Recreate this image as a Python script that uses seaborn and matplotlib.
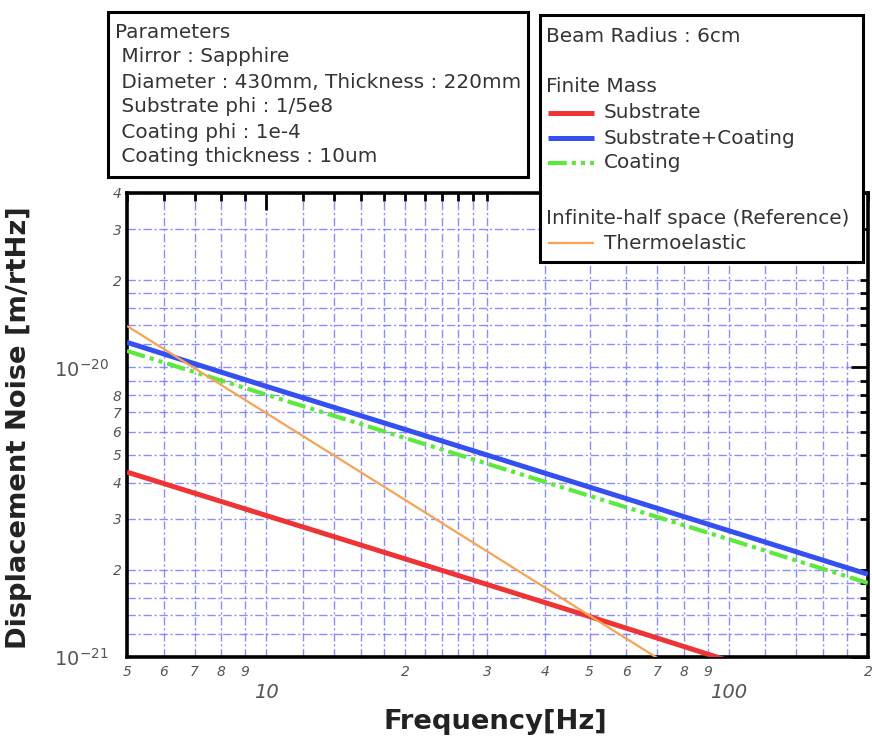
import numpy as np
import pandas as pd
import matplotlib
matplotlib.use("Agg")
import matplotlib.pyplot as plt
from matplotlib.patches import Rectangle
from matplotlib.lines import Line2D
from matplotlib.ticker import FixedLocator, FuncFormatter
import seaborn as sns

# ---- data: displacement noise spectra [m/rtHz] vs frequency [Hz] ----
freq = [5, 10, 20, 50, 100, 200]
substrate = [4.35e-21, 3.08e-21, 2.18e-21, 1.38e-21, 9.7e-22, 6.9e-22]
coating = [1.14e-20, 8.05e-21, 5.70e-21, 3.60e-21, 2.55e-21, 1.80e-21]
sub_coat = [1.22e-20, 8.60e-21, 6.10e-21, 3.86e-21, 2.73e-21, 1.93e-21]
thermoelastic = [1.39e-20, 6.95e-21, 3.48e-21, 1.39e-21, 6.95e-22, 3.5e-22]

series_names = ["Substrate", "Substrate+Coating", "Coating", "Thermoelastic"]

# tick positions and labels
x_major = [10, 100]
x_major_labels = ["10", "100"]
x_minor = [5, 6, 7, 8, 9, 12, 14, 16, 18, 20, 22, 24, 26, 28, 30, 40, 50, 60,
           70, 80, 90, 120, 140, 160, 180, 200]
x_minor_labels = {5: "5", 6: "6", 7: "7", 8: "8", 9: "9", 20: "2", 30: "3",
                  40: "4", 50: "5", 60: "6", 70: "7", 80: "8", 90: "9", 200: "2"}
y_major = [1e-21, 1e-20]
y_major_labels = [r"$\mathit{10^{-21}}$", r"$\mathit{10^{-20}}$"]
y_minor = [1.2e-21, 1.4e-21, 1.6e-21, 1.8e-21, 2e-21, 3e-21, 4e-21, 5e-21,
           6e-21, 7e-21, 8e-21, 9e-21, 1.2e-20, 1.4e-20, 1.6e-20, 1.8e-20,
           2e-20, 3e-20, 4e-20]
y_minor_labels = {2e-21: "2", 3e-21: "3", 4e-21: "4", 5e-21: "5", 6e-21: "6",
                  7e-21: "7", 8e-21: "8", 2e-20: "2", 3e-20: "3", 4e-20: "4"}

colors = {"Substrate": "#ee3434", "Substrate+Coating": "#3450f0",
          "Coating": "#5ce83c", "Thermoelastic": "#f5a552"}
widths = {"Substrate": 3.6, "Substrate+Coating": 3.6, "Coating": 3.0,
          "Thermoelastic": 1.6}
dashes = {"Substrate": "", "Substrate+Coating": "",
          "Coating": (4.5, 1.2, 1, 1.2, 1, 1.2), "Thermoelastic": ""}

df = pd.concat([
    pd.DataFrame({"freq": freq, "noise": vals, "series": name})
    for name, vals in zip(series_names, [substrate, sub_coat, coating, thermoelastic])
], ignore_index=True)

sns.set_theme(style="white")
plt.rcParams["font.family"] = ["DejaVu Sans"]

W, H = 872, 747
fig = plt.figure(figsize=(W / 100, H / 100), dpi=100)
fx = lambda x: x / W
fy = lambda y: 1 - y / H

ax = fig.add_axes([fx(127), fy(657), (868 - 127) / W, (657 - 193) / H])
ax.set_xscale("log")
ax.set_yscale("log")
ax.set_xlim(5, 200)
ax.set_ylim(1e-21, 4e-20)

sns.lineplot(data=df, x="freq", y="noise", hue="series", style="series",
             size="series", palette=colors, dashes=dashes, sizes=widths,
             hue_order=series_names, style_order=series_names,
             size_order=series_names, legend=False, ax=ax, zorder=3)
for ln in ax.get_lines():
    ln.set_solid_capstyle("butt")

# grid and ticks
ax.xaxis.set_major_locator(FixedLocator(x_major))
ax.xaxis.set_minor_locator(FixedLocator(x_minor))
ax.yaxis.set_major_locator(FixedLocator(y_major))
ax.yaxis.set_minor_locator(FixedLocator(y_minor))
ax.xaxis.set_major_formatter(FuncFormatter(
    lambda v, p: x_major_labels[x_major.index(int(round(v)))] if int(round(v)) in x_major else ""))
ax.xaxis.set_minor_formatter(FuncFormatter(lambda v, p: x_minor_labels.get(int(round(v)), "")))
ax.yaxis.set_major_formatter(FuncFormatter(
    lambda v, p: y_major_labels[int(np.argmin([abs(np.log10(v / m)) for m in y_major]))]))


def ymin_fmt(v, p):
    for k, s in y_minor_labels.items():
        if abs(np.log10(v / k)) < 1e-3:
            return s
    return ""


ax.yaxis.set_minor_formatter(FuncFormatter(ymin_fmt))

grid_kw = dict(color="#7878ff", linewidth=1.0, alpha=0.85, dashes=(6, 2, 1.5, 2))
ax.grid(True, which="both", axis="both", **grid_kw)
ax.set_axisbelow(True)

ax.tick_params(which="both", direction="in", top=True, right=True,
               color="black", width=2, labelcolor="#555555")
ax.tick_params(which="major", length=12)
ax.tick_params(which="minor", length=6)
ax.tick_params(axis="x", which="minor", pad=6, labelsize=10)
ax.tick_params(axis="x", which="major", pad=19, labelsize=14)
ax.tick_params(axis="y", which="minor", pad=4, labelsize=10)
ax.tick_params(axis="y", which="major", pad=13, labelsize=14)
for lab in ax.get_xticklabels(which="both") + ax.get_yticklabels(which="both"):
    lab.set_fontstyle("italic")

for s in ax.spines.values():
    s.set_color("black")
    s.set_linewidth(2.6)

ax.set_xlabel("Frequency[Hz]", fontsize=19.7, fontweight="bold", color="#222222", va="center")
ax.xaxis.set_label_coords((495 - 127) / 741, (657 - 722) / 464)
ax.set_ylabel("Displacement Noise [m/rtHz]", fontsize=19.7, fontweight="bold",
              color="#222222", va="center")
ax.yaxis.set_label_coords((19 - 127) / 741, (657 - 428) / 464)

# parameter box
fig.patches.append(Rectangle((fx(108), fy(177)), (528 - 108) / W, (177 - 12) / H,
                             transform=fig.transFigure, facecolor="white",
                             edgecolor="black", linewidth=2.2, zorder=5))
param_lines = ["Parameters", " Mirror : Sapphire",
               " Diameter : 430mm, Thickness : 220mm",
               " Substrate phi : 1/5e8", " Coating phi : 1e-4",
               " Coating thickness : 10um"]
for i, t in enumerate(param_lines):
    fig.text(fx(115), fy(32 + 25 * i), t, fontsize=14.4, color="#333333",
             va="center", ha="left", zorder=6)

# legend box
fig.patches.append(Rectangle((fx(540), fy(262)), (863 - 540) / W, (262 - 15) / H,
                             transform=fig.transFigure, facecolor="white",
                             edgecolor="black", linewidth=2.2, zorder=5))
headers = [("Beam Radius : 6cm", 37), ("Finite Mass", 87),
           ("Infinite-half space (Reference)", 218)]
for t, y in headers:
    fig.text(fx(546), fy(y), t, fontsize=14.4, color="#333333", va="center",
             ha="left", zorder=6)
entry_y = {"Substrate": 113, "Substrate+Coating": 138, "Coating": 163,
           "Thermoelastic": 243}
for name in series_names:
    y = entry_y[name]
    sample = Line2D([fx(548), fx(594)], [fy(y), fy(y)], transform=fig.transFigure,
                    color=colors[name], linewidth=widths[name], zorder=6,
                    solid_capstyle="butt")
    if dashes[name]:
        sample.set_dashes(dashes[name])
    fig.lines.append(sample)
    fig.text(fx(604), fy(y), name, fontsize=14.4, color="#333333", va="center",
             ha="left", zorder=6)

fig.savefig("out.png", dpi=100)
